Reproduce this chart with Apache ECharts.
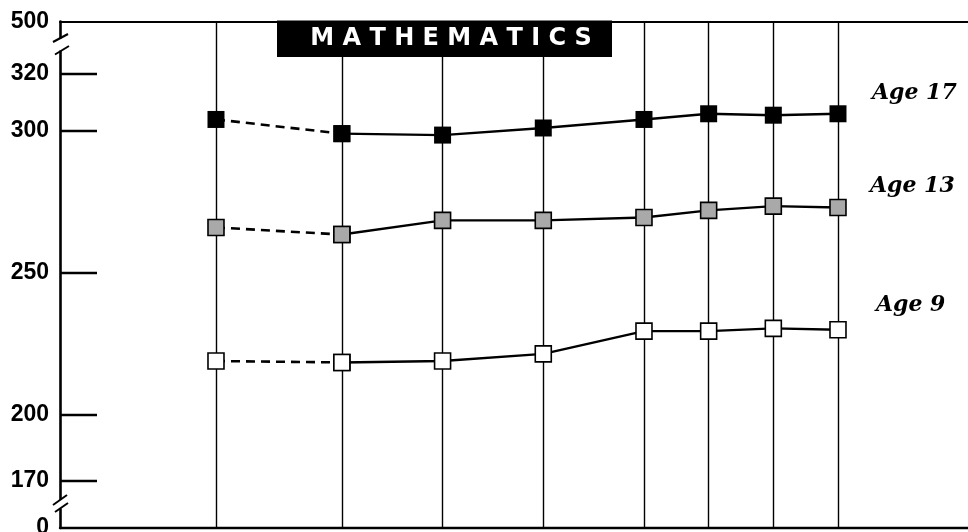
<!DOCTYPE html>
<html>
<head>
    <meta charset="utf-8">
    <title>Mathematics</title>
    <script src="https://cdn.jsdelivr.net/npm/echarts@6/dist/echarts.min.js"></script>
</head>
<body style="margin: 0">
    <div id="container" style="width: 968px; height: 532px"></div>
    <script type="text/javascript">
        var years = [1973, 1978, 1982, 1986, 1990, 1992, 1994, 1996];
        var age17 = [304, 299, 298.5, 301, 304, 306, 305.5, 306];
        var age13 = [266, 263.5, 268.5, 268.5, 269.5, 272, 273.5, 273];
        var age9 = [219, 218.5, 219, 221.5, 229.5, 229.5, 230.5, 230];
        var yTicks = [0, 170, 200, 250, 300, 320, 500];
        var seriesNames = ['Age 17', 'Age 13', 'Age 9'];
        var titleText = 'MATHEMATICS';

        // broken axes: real value -> axis unit
        var yKnots = [[0, 160.24], [170, 176.78], [200, 200], [320, 320], [500, 338.47]];
        var xKnots = [[1973, 1973], [1990, 1990], [1996, 1997.706]];

        function piecewise(knots, v) {
            for (var i = 1; i < knots.length; i++) {
                var a = knots[i - 1], b = knots[i];
                if (v <= b[0] || i === knots.length - 1) {
                    return a[1] + (v - a[0]) * (b[1] - a[1]) / (b[0] - a[0]);
                }
            }
        }
        function toY(v) { return piecewise(yKnots, v); }
        function toX(v) { return piecewise(xKnots, v); }

        var myChart = echarts.init(document.getElementById('container'));

        function makeSeries(name, values, marker) {
            var pts = years.map(function (yr, i) {
                return [toX(yr), toY(values[i])];
            });
            var common = {
                name: name,
                type: 'line',
                symbol: 'rect',
                symbolSize: marker.size,
                itemStyle: { color: marker.fill, borderColor: '#000', borderWidth: marker.border },
                silent: true
            };
            return [
                Object.assign({}, common, {
                    data: pts.slice(0, 2),
                    lineStyle: { color: '#000', width: 2.6, type: [9, 6] }
                }),
                Object.assign({}, common, {
                    data: pts.slice(1),
                    lineStyle: { color: '#000', width: 2.4 }
                })
            ];
        }

        var series = []
            .concat(makeSeries(seriesNames[0], age17, { fill: '#000', size: 17, border: 0 }))
            .concat(makeSeries(seriesNames[1], age13, { fill: '#a9a9a9', size: 16, border: 1.6 }))
            .concat(makeSeries(seriesNames[2], age9, { fill: '#fff', size: 16, border: 1.6 }));

        var xMin = 1966.804, xMax = 2002.87;

        var option = {
            animation: false,
            grid: { left: 60, right: 0, top: 21.5, bottom: 4, outerBoundsMode: 'none' },
            xAxis: [{
                type: 'value',
                min: xMin,
                max: xMax,
                axisLine: { show: true, lineStyle: { color: '#000', width: 2.4 } },
                axisTick: { show: false, customValues: years.map(toX) },
                axisLabel: { show: false },
                splitLine: { show: true, lineStyle: { color: '#000', width: 1.4 } }
            }, {
                type: 'value',
                position: 'top',
                min: xMin,
                max: xMax,
                axisLine: { show: true, lineStyle: { color: '#000', width: 2.2 } },
                axisTick: { show: false },
                axisLabel: { show: false },
                splitLine: { show: false }
            }],
            yAxis: {
                type: 'value',
                min: toY(0),
                max: toY(500),
                axisLine: { show: true, lineStyle: { color: '#000', width: 2.6 } },
                axisTick: {
                    show: true,
                    inside: true,
                    length: 37,
                    lineStyle: { color: '#000', width: 2.4 },
                    customValues: [170, 200, 250, 300, 320].map(toY)
                },
                axisLabel: {
                    customValues: yTicks.map(toY),
                    margin: 11,
                    color: '#000',
                    fontSize: 23,
                    fontWeight: 'bold',
                    fontFamily: 'Liberation Sans, Arial, sans-serif',
                    formatter: function (val) {
                        for (var i = 0; i < yTicks.length; i++) {
                            if (Math.abs(toY(yTicks[i]) - val) < 0.01) return String(yTicks[i]);
                        }
                        return '';
                    }
                },
                splitLine: { show: false }
            },
            series: series,
            graphic: [
                // axis breaks
                { type: 'rect', shape: { x: 56, y: 38.5, width: 9, height: 12 }, style: { fill: '#fff' }, z: 100 },
                { type: 'line', shape: { x1: 53, y1: 42, x2: 68, y2: 34 }, style: { stroke: '#000', lineWidth: 2 }, z: 101 },
                { type: 'line', shape: { x1: 55, y1: 54.5, x2: 69, y2: 46 }, style: { stroke: '#000', lineWidth: 2 }, z: 101 },
                { type: 'rect', shape: { x: 56, y: 500, width: 9, height: 8.5 }, style: { fill: '#fff' }, z: 100 },
                { type: 'line', shape: { x1: 53, y1: 505, x2: 67, y2: 495 }, style: { stroke: '#000', lineWidth: 2 }, z: 101 },
                { type: 'line', shape: { x1: 55, y1: 512, x2: 68, y2: 503 }, style: { stroke: '#000', lineWidth: 2 }, z: 101 },
                // title box
                { type: 'rect', shape: { x: 277, y: 20.5, width: 335, height: 36.5 }, style: { fill: '#000' }, z: 100 },
                {
                    type: 'text', x: 451, y: 39, z: 101,
                    style: {
                        text: titleText.split('').join(' '),
                        fill: '#fff',
                        font: 'bold 24px "DejaVu Sans"',
                        align: 'center',
                        verticalAlign: 'middle'
                    }
                },
                // series labels
                {
                    type: 'text', x: 872, y: 93, z: 101,
                    style: { text: seriesNames[0], fill: '#000', font: 'italic bold 22px "DejaVu Serif"', verticalAlign: 'middle' }
                },
                {
                    type: 'text', x: 870, y: 186, z: 101,
                    style: { text: seriesNames[1], fill: '#000', font: 'italic bold 22px "DejaVu Serif"', verticalAlign: 'middle' }
                },
                {
                    type: 'text', x: 876, y: 305, z: 101,
                    style: { text: seriesNames[2], fill: '#000', font: 'italic bold 22px "DejaVu Serif"', verticalAlign: 'middle' }
                }
            ]
        };
        myChart.setOption(option);
    </script>
</body>
</html>
